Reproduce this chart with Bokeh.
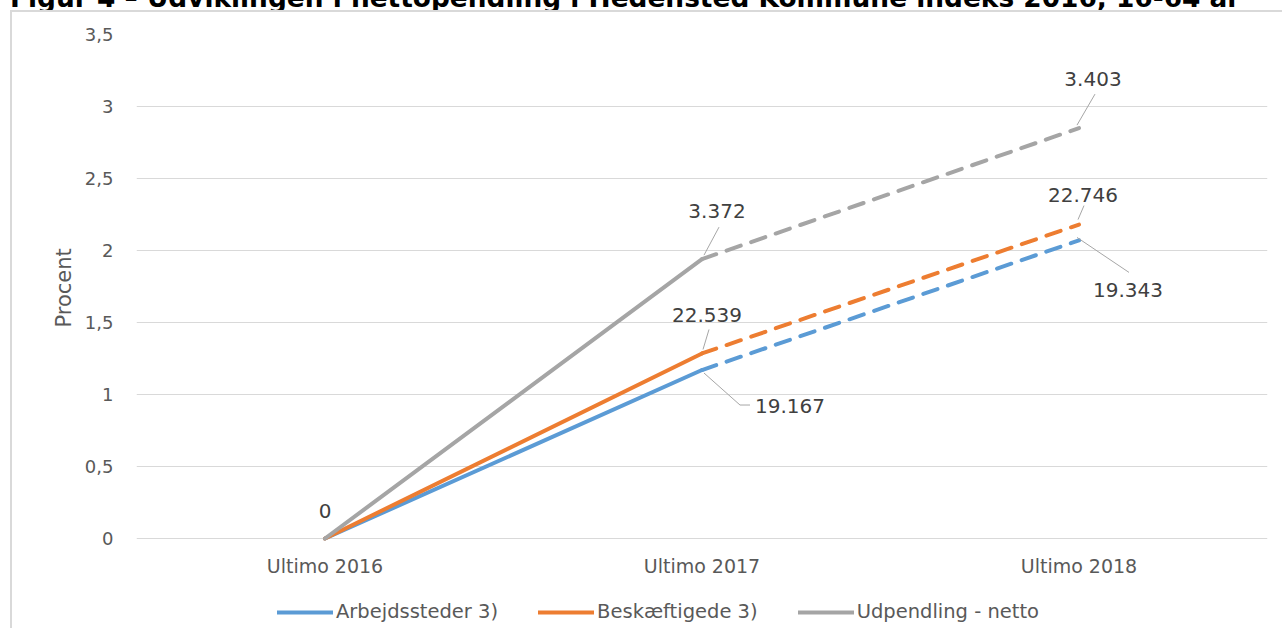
from bokeh.plotting import figure
from bokeh.models import Range1d, FixedTicker, Legend, LegendItem, Div, Title
from bokeh.layouts import column
from bokeh.embed import file_html
from bokeh.resources import INLINE
from bokeh.core.properties import value

# ---------------- data ----------------
title_text = "Figur 4 – Udviklingen i nettopendling i Hedensted Kommune indeks 2016, 16-64 år"
categories = ["Ultimo 2016", "Ultimo 2017", "Ultimo 2018"]
series_names = ["Arbejdssteder 3)", "Beskæftigede 3)", "Udpendling - netto"]
arbejdssteder = [0.0, 1.17, 2.07]
beskaeftigede = [0.0, 1.285, 2.18]
udpendling = [0.0, 1.94, 2.85]
arbejdssteder_labels = ["", "19.167", "19.343"]
beskaeftigede_labels = ["", "22.539", "22.746"]
udpendling_labels = ["0", "3.372", "3.403"]
y_ticks = [0, 0.5, 1, 1.5, 2, 2.5, 3, 3.5]
y_tick_labels = ["0", "0,5", "1", "1,5", "2", "2,5", "3", "3,5"]
y_axis_label = "Procent"

# ---------------- styles ----------------
colors = ["#5B9BD5", "#ED7D31", "#A5A5A5"]
FONT = "DejaVu Sans"
TXT = "#595959"
LBL = "#404040"
GRID = "#D9D9D9"
W, H = 1272, 618
MB_L, MB_R, MB_T, MB_B = 124, 17, 22, 0
FRAME_W = W - MB_L - MB_R
FRAME_H = H - MB_T - MB_B
DATA_H = 504            # px height of the 0..Y_MAX band
Y_MAX = 3.5
px_x = FRAME_W / len(categories)
px_y = DATA_H / Y_MAX
Y_MIN = -(FRAME_H - DATA_H) / px_y   # room below zero for category labels and legend

# label offsets (screen px, +y down) and leader polylines per series/point
label_offsets = [
    [None, (88, 36), (49, 50)],
    [None, (5, -38), (4, -30)],
    [(0, -28), (15, -48), (14, -49)],
]
leaders = [
    [None, [(2, 3), (38, 35), (48, 35)], [(-2, -3), (50, 32)]],
    [None, [(1, -4), (7, -24)], [(-1, -5), (5, -19)]],
    [None, [(2, -4), (17, -32)], [(-2, -3), (16, -34)]],
]

xs = [i + 0.5 for i in range(len(categories))]
series = [arbejdssteder, beskaeftigede, udpendling]
labels = [arbejdssteder_labels, beskaeftigede_labels, udpendling_labels]

p = figure(width=W, height=H, x_range=Range1d(0, len(categories)), y_range=Range1d(Y_MIN, Y_MAX),
           output_backend="svg", toolbar_location=None,
           min_border_left=MB_L, min_border_right=MB_R, min_border_top=MB_T, min_border_bottom=MB_B,
           outline_line_color=None, background_fill_color="white", border_fill_color="white",
           margin=(0, 0, 0, 10))
p.styles = {"border-top": "2px solid #D9D9D9", "border-left": "2px solid #D9D9D9"}

# axes
p.xaxis.fixed_location = 0
p.xaxis.ticker = FixedTicker(ticks=xs)
p.xaxis.major_label_overrides = {x: c for x, c in zip(xs, categories)}
p.xaxis.axis_line_color = None
p.xaxis.major_tick_line_color = None
p.xaxis.minor_tick_line_color = None
p.xaxis.major_label_standoff = 10
p.xaxis.major_label_text_font = FONT
p.xaxis.major_label_text_font_size = "19px"
p.xaxis.major_label_text_color = TXT

p.yaxis.ticker = FixedTicker(ticks=y_ticks)
p.yaxis.major_label_overrides = {t: l for t, l in zip(y_ticks, y_tick_labels)}
p.yaxis.axis_line_color = None
p.yaxis.major_tick_line_color = None
p.yaxis.minor_tick_line_color = None
p.yaxis.major_label_standoff = 17
p.yaxis.major_label_text_font = FONT
p.yaxis.major_label_text_font_size = "18px"
p.yaxis.major_label_text_color = TXT

ylabel = Title(text=y_axis_label, align="left", offset=303, standoff=12,
               text_font=FONT, text_font_size="21px", text_font_style="normal", text_color=TXT)
p.add_layout(ylabel, "left")

p.xgrid.grid_line_color = None
p.ygrid.grid_line_color = GRID
p.ygrid.grid_line_width = 1

items = []
for vals, col, name in zip(series, colors, series_names):
    solid = p.line(xs[:2], vals[:2], line_color=col, line_width=4, line_cap="round", line_join="round")
    p.line(xs[1:], vals[1:], line_color=col, line_width=4, line_cap="round", line_dash="15 11")
    items.append(LegendItem(label=name, renderers=[solid]))

# leader lines and data labels
lx, ly, lt, lxs, lys = [], [], [], [], []
for vals, labs, offs, leads in zip(series, labels, label_offsets, leaders):
    for j, (x, v) in enumerate(zip(xs, vals)):
        if labs[j]:
            dx, dy = offs[j]
            lx.append(x + dx / px_x)
            ly.append(v - dy / px_y)
            lt.append(labs[j])
        if leads[j]:
            lxs.append([x + a / px_x for a, b in leads[j]])
            lys.append([v - b / px_y for a, b in leads[j]])

p.multi_line(lxs, lys, line_color="#A6A6A6", line_width=1)
p.text(x=lx, y=ly, text=lt, text_align="center", text_baseline="middle",
       text_font=value(FONT), text_font_size="20px", text_color=LBL)

legend = Legend(items=items, orientation="horizontal", location=(141, 7),
                glyph_width=56, glyph_height=20, label_standoff=3, spacing=40,
                label_text_font=FONT, label_text_font_size="19.5px", label_text_color=TXT,
                background_fill_alpha=0, border_line_alpha=0, padding=0, margin=0)
p.add_layout(legend)

title = Div(text=title_text, width=1274, height=24, margin=(-14, 0, 0, 10),
            styles={"font-family": "DejaVu Sans", "font-weight": "bold", "font-size": "26.4px",
                    "line-height": "24px", "white-space": "nowrap", "color": "#000000",
                    "overflow": "hidden"})

root = column(title, p, spacing=0)
open("out.html", "w").write(file_html(root, INLINE))
